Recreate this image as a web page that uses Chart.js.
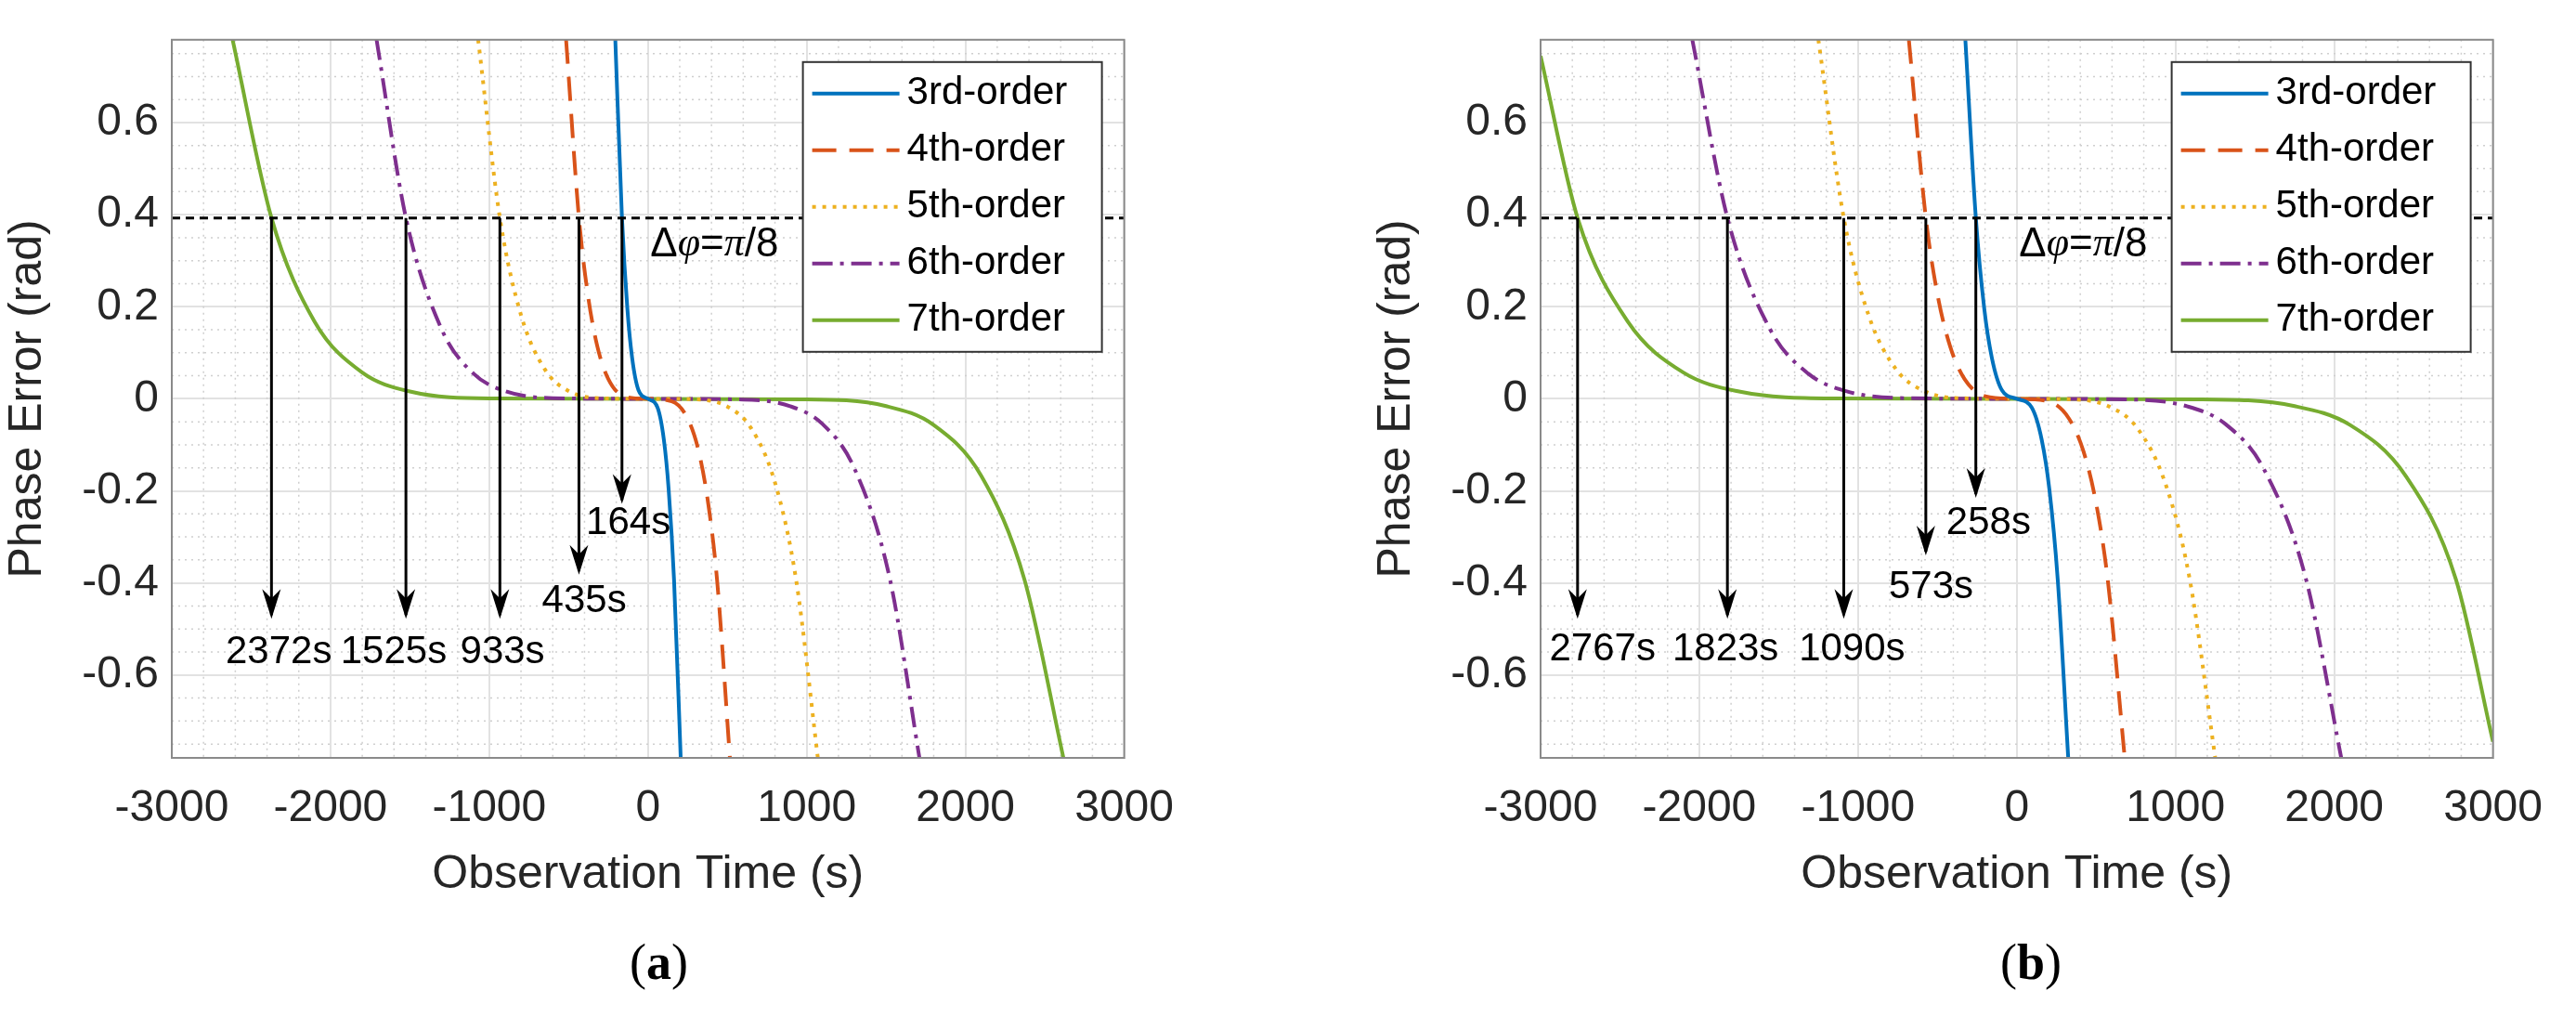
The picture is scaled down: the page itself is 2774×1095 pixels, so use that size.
<!DOCTYPE html>
<html>
<head>
<meta charset="utf-8">
<script src="https://cdn.jsdelivr.net/npm/chart.js@4.4.1/dist/chart.umd.min.js"></script>
<style>
  body { margin: 0; background: #fff; width: 2774px; height: 1095px; position: relative; overflow: hidden; }
  .panel { position: absolute; top: 0; width: 1290px; height: 1000px; }
  .tag { position: absolute; top: 1005px; font: 54px "Liberation Serif", serif; }
</style>
</head>
<body>
<div class="panel" style="left:0"><canvas id="chartA" width="1290" height="1000"></canvas></div>
<div class="panel" style="left:1474px"><canvas id="chartB" width="1290" height="1000"></canvas></div>
<div class="tag" style="left:678px">(<b>a</b>)</div>
<div class="tag" style="left:2154px">(<b>b</b>)</div>
<script>
const seriesNames = ["3rd-order", "4th-order", "5th-order", "6th-order", "7th-order"];
const xTickValues = [-3000, -2000, -1000, 0, 1000, 2000, 3000];
const yTickValues = [-0.6, -0.4, -0.2, 0, 0.2, 0.4, 0.6];
const threshold = 0.3927;

// panel (a): time points and phase error for each order
const timeA3 = [-206, -164, -130, -100, -60, 0, 60, 100, 130, 164, 206];
const errA3 = [0.78, 0.393, 0.196, 0.089, 0.019, 0, -0.019, -0.089, -0.196, -0.393, -0.78];
const timeA4 = [-516, -435, -380, -320, -250, -150, 0, 150, 250, 320, 380, 435, 516];
const errA4 = [0.78, 0.393, 0.229, 0.115, 0.043, 0.0056, 0, -0.0056, -0.043, -0.115, -0.229, -0.393, -0.78];
const timeA5 = [-1070, -933, -800, -650, -500, -300, 0, 300, 500, 650, 800, 933, 1070];
const errA5 = [0.78, 0.393, 0.182, 0.064, 0.017, 0.0013, 0, -0.0013, -0.017, -0.064, -0.182, -0.393, -0.78];
const timeA6 = [-1710, -1525, -1300, -1100, -900, -600, 0, 600, 900, 1100, 1300, 1525, 1710];
const errA6 = [0.78, 0.393, 0.151, 0.055, 0.0166, 0.0015, 0, -0.0015, -0.0166, -0.055, -0.151, -0.393, -0.78];
const timeA7 = [-2617, -2372, -2100, -1800, -1500, -1000, 0, 1000, 1500, 1800, 2100, 2372, 2617];
const errA7 = [0.78, 0.393, 0.1675, 0.057, 0.0159, 0.001, 0, -0.001, -0.0159, -0.057, -0.1675, -0.393, -0.78];

// panel (b)
const timeB3 = [-324, -258, -205, -157, -94, 0, 94, 157, 205, 258, 324];
const errB3 = [0.78, 0.393, 0.196, 0.089, 0.019, 0, -0.019, -0.089, -0.196, -0.393, -0.78];
const timeB4 = [-680, -573, -501, -421, -329, -198, 0, 198, 329, 421, 501, 573, 680];
const errB4 = [0.78, 0.393, 0.229, 0.115, 0.043, 0.0056, 0, -0.0056, -0.043, -0.115, -0.229, -0.393, -0.78];
const timeB5 = [-1250, -1090, -934, -760, -584, -350, 0, 350, 584, 760, 934, 1090, 1250];
const errB5 = [0.78, 0.393, 0.182, 0.064, 0.017, 0.0013, 0, -0.0013, -0.017, -0.064, -0.182, -0.393, -0.78];
const timeB6 = [-2044, -1823, -1554, -1315, -1076, -716, 0, 716, 1076, 1315, 1554, 1823, 2044];
const errB6 = [0.78, 0.393, 0.151, 0.055, 0.0166, 0.0015, 0, -0.0015, -0.0166, -0.055, -0.151, -0.393, -0.78];
const timeB7 = [-3000, -2767, -2450, -2100, -1750, -1167, 0, 1167, 1750, 2100, 2450, 2767, 3000];
const errB7 = [0.745, 0.393, 0.1675, 0.057, 0.0159, 0.001, 0, -0.001, -0.0159, -0.057, -0.1675, -0.393, -0.745];

// arrow annotations: time, arrow tip, label text, label position
const arrowTimesA = [-2372, -1525, -933, -435, -164];
const arrowTipsA = [-0.478, -0.478, -0.478, -0.382, -0.228];
const arrowLabelsA = ["2372s", "1525s", "933s", "435s", "164s"];
const labelXA = [-2326, -1602, -917, -402, -124];
const labelYA = [-0.55, -0.55, -0.55, -0.44, -0.27];

const arrowTimesB = [-2767, -1823, -1090, -573, -258];
const arrowTipsB = [-0.478, -0.478, -0.478, -0.34, -0.215];
const arrowLabelsB = ["2767s", "1823s", "1090s", "573s", "258s"];
const labelXB = [-2610, -1835, -1038, -540, -178];
const labelYB = [-0.545, -0.545, -0.545, -0.41, -0.27];

const colors = ["#0072BD", "#D95319", "#EDB120", "#7E2F8E", "#77AC30"];
const dashes = [[], [26, 14], [4, 7], [22, 8, 4, 8], []];
const FONT = '"Liberation Sans", Arial, sans-serif';
const SERIF = '"Liberation Serif", serif';

const toPoints = (ts, ys) => ts.map((t, i) => ({ x: t, y: ys[i] }));

const overlayPlugin = (arrows, tips, labels, lx, ly) => ({
  id: "overlay",
  beforeDatasetsDraw(chart) {
    const { ctx, chartArea: a, scales: { x, y } } = chart;
    ctx.save();
    ctx.strokeStyle = "#cfcfcf";
    ctx.lineWidth = 1.5;
    ctx.setLineDash([2, 5]);
    for (let t = -3000; t <= 3000; t += 200) {
      if (t % 1000 === 0) continue;
      const px = x.getPixelForValue(t);
      ctx.beginPath(); ctx.moveTo(px, a.top); ctx.lineTo(px, a.bottom); ctx.stroke();
    }
    for (let k = -15; k <= 15; k++) {
      if (k % 4 === 0) continue;
      const py = y.getPixelForValue(k * 0.05);
      ctx.beginPath(); ctx.moveTo(a.left, py); ctx.lineTo(a.right, py); ctx.stroke();
    }
    ctx.restore();
  },
  afterDatasetsDraw(chart) {
    const { ctx, chartArea: a, scales: { x, y } } = chart;
    ctx.save();
    // threshold line
    const ty = y.getPixelForValue(threshold);
    ctx.strokeStyle = "#000";
    ctx.fillStyle = "#000";
    ctx.lineWidth = 3;
    ctx.setLineDash([9, 6]);
    ctx.beginPath(); ctx.moveTo(a.left, ty); ctx.lineTo(a.right, ty); ctx.stroke();
    ctx.setLineDash([]);
    // arrows
    arrows.forEach((t, i) => {
      const px = x.getPixelForValue(t);
      const tip = y.getPixelForValue(tips[i]);
      ctx.lineWidth = 3;
      ctx.beginPath(); ctx.moveTo(px, ty); ctx.lineTo(px, tip - 4); ctx.stroke();
      ctx.beginPath();
      ctx.moveTo(px, tip); ctx.lineTo(px - 10, tip - 32); ctx.lineTo(px, tip - 22); ctx.lineTo(px + 10, tip - 32);
      ctx.closePath(); ctx.fill();
      ctx.font = "42px " + FONT;
      ctx.textAlign = "center";
      ctx.textBaseline = "middle";
      ctx.fillText(labels[i], x.getPixelForValue(lx[i]), y.getPixelForValue(ly[i]));
    });
    // delta phi label
    ctx.textAlign = "left";
    const dx = x.getPixelForValue(15), dy = y.getPixelForValue(0.335);
    const parts = [["\u0394", FONT, ""], ["\u03c6", SERIF, "italic "], ["=", FONT, ""], ["\u03c0", SERIF, "italic "], ["/8", FONT, ""]];
    let w = 0;
    parts.forEach(([s, f, st]) => {
      ctx.font = st + "44px " + f;
      ctx.fillText(s, dx + w, dy);
      w += ctx.measureText(s).width;
    });
    // legend
    const lw = 322, lh = 312, lxp = a.right - 24 - lw, lyp = a.top + 24;
    ctx.fillStyle = "#fff";
    ctx.fillRect(lxp, lyp, lw, lh);
    ctx.strokeStyle = "#333";
    ctx.lineWidth = 2;
    ctx.strokeRect(lxp, lyp, lw, lh);
    seriesNames.forEach((n, i) => {
      const ey = lyp + 34 + i * 61;
      ctx.strokeStyle = colors[i];
      ctx.lineWidth = 4;
      ctx.setLineDash(dashes[i]);
      ctx.beginPath(); ctx.moveTo(lxp + 10, ey); ctx.lineTo(lxp + 104, ey); ctx.stroke();
      ctx.setLineDash([]);
      ctx.fillStyle = "#000";
      ctx.font = "42px " + FONT;
      ctx.textBaseline = "middle";
      ctx.fillText(n, lxp + 112, ey);
    });
    // axes box
    ctx.strokeStyle = "#8a8a8a";
    ctx.lineWidth = 2;
    ctx.strokeRect(a.left, a.top, a.right - a.left, a.bottom - a.top);
    ctx.restore();
  }
});

const makeChart = (id, times, errs, arrowCfg) => {
  const datasets = seriesNames.map((n, i) => ({
    label: n,
    data: toPoints(times[i], errs[i]),
    borderColor: colors[i],
    borderWidth: 4,
    borderDash: dashes[i],
    pointRadius: 0,
    cubicInterpolationMode: "monotone",
    fill: false
  }));
  return new Chart(document.getElementById(id), {
    type: "line",
    data: { datasets },
    options: {
      responsive: false,
      animation: false,
      clip: true,
      layout: { padding: { top: 20, right: 45, bottom: 24 } },
      plugins: { legend: { display: false }, tooltip: { enabled: false } },
      scales: {
        x: {
          type: "linear",
          min: -3000, max: 3000,
          afterBuildTicks: (s) => { s.ticks = xTickValues.map((v) => ({ value: v })); },
          afterFit: (s) => { s.height = 160; },
          ticks: { font: { size: 48, family: FONT }, color: "#262626", padding: 26, maxRotation: 0, callback: (v) => String(v) },
          grid: { color: "#e2e2e2", lineWidth: 2, tickLength: 0 },
          title: { display: true, text: "Observation Time (s)", font: { size: 50, family: FONT }, color: "#262626" }
        },
        y: {
          min: -0.78, max: 0.78,
          afterBuildTicks: (s) => { s.ticks = yTickValues.map((v) => ({ value: v })); },
          afterFit: (s) => { s.width = 185; },
          ticks: { font: { size: 48, family: FONT }, color: "#262626", padding: 14, callback: (v) => (Math.abs(v) < 1e-9 ? "0" : String(Math.round(v * 10) / 10)) },
          grid: { color: "#e2e2e2", lineWidth: 2, tickLength: 0 },
          title: { display: true, text: "Phase Error (rad)", font: { size: 50, family: FONT }, color: "#262626", padding: 0 }
        }
      }
    },
    plugins: [overlayPlugin(...arrowCfg)]
  });
};

makeChart("chartA", [timeA3, timeA4, timeA5, timeA6, timeA7], [errA3, errA4, errA5, errA6, errA7],
  [arrowTimesA, arrowTipsA, arrowLabelsA, labelXA, labelYA]);
makeChart("chartB", [timeB3, timeB4, timeB5, timeB6, timeB7], [errB3, errB4, errB5, errB6, errB7],
  [arrowTimesB, arrowTipsB, arrowLabelsB, labelXB, labelYB]);
</script>
</body>
</html>
